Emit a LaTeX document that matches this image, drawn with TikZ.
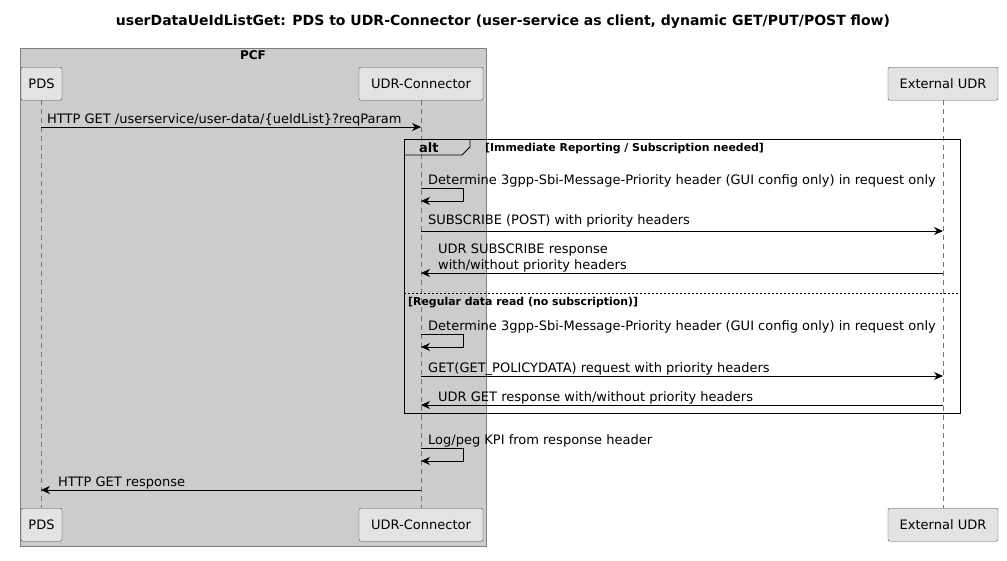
\documentclass[tikz,border=0pt]{standalone}
\usepackage{fontspec}
\setmainfont{DejaVu Sans}
\usetikzlibrary{arrows.meta}
\begin{document}
\begin{tikzpicture}[x=1pt,y=-1pt,
 part/.style={draw=black!70,fill=black!11,rounded corners=2pt,minimum height=33pt,inner xsep=5.5pt,font=\fontsize{13}{15}\selectfont},
 life/.style={draw=black!55,dash pattern=on 5pt off 4pt,line width=0.6pt},
 msg/.style={-{Stealth[length=9pt,width=8pt]},line width=0.7pt},
 lbl/.style={font=\fontsize{13}{15}\selectfont,anchor=base west,inner sep=0pt,align=left},
 guard/.style={font=\bfseries\fontsize{10.9}{12}\selectfont,anchor=base west,inner sep=0pt}]
\useasboundingbox (0,0) rectangle (1007,560);
\node[font=\bfseries\fontsize{14}{16}\selectfont] (title) at (503,22) {userDataUeIdListGet: PDS to UDR-Connector (user-service as client, dynamic GET/PUT/POST flow)};
\draw[fill=black!20,draw=black!50] (20,48) rectangle (486,546);
\node[font=\bfseries\fontsize{12}{14}\selectfont] (pcf) at (253,55) {PCF};
% lifelines
\coordinate (pdsT) at (41,100); \coordinate (pdsB) at (41,508);
\coordinate (udrcT) at (421,100); \coordinate (udrcB) at (421,508);
\coordinate (extT) at (943,100); \coordinate (extB) at (943,508);
\draw[life] (pdsT)--(pdsB); \draw[life] (udrcT)--(udrcB); \draw[life] (extT)--(extB);
\node[part,anchor=north,minimum width=41pt] (pds1) at (41.5,67) {PDS};
\node[part,anchor=north,minimum width=41pt] (pds2) at (41.5,508) {PDS};
\node[part,anchor=north,minimum width=124pt] (uc1) at (421,67) {UDR-Connector};
\node[part,anchor=north,minimum width=124pt] (uc2) at (421,508) {UDR-Connector};
\node[part,anchor=north,minimum width=110pt] (ex1) at (943,67) {External UDR};
\node[part,anchor=north,minimum width=110pt] (ex2) at (943,508) {External UDR};
% alt frame
\draw[line width=0.9pt] (404,139) rectangle (960,413);
\draw[line width=0.9pt] (404,155) -- (462,155) -- (470,147) -- (470,139);
\node[font=\bfseries\fontsize{13}{15}\selectfont,anchor=base west,inner sep=0pt] (alt) at (419,152) {alt};
\node[guard] (g1) at (485,151) {[Immediate Reporting / Subscription needed]};
\draw[dash pattern=on 2pt off 2pt] (404,293) -- (960,293);
\node[guard] (g2) at (408,305) {[Regular data read (no subscription)]};
% messages
\coordinate (m1a) at (41,127); \coordinate (m1b) at (421,127);
\draw[msg] (m1a) -- (m1b);
\node[lbl] (l1) at (47,123) {HTTP GET /userservice/user-data/\{ueIdList\}?reqParam};
\coordinate (s1) at (421,188); \coordinate (s1e) at (421,201);
\draw[msg] (s1) -- (463,188) -- (463,201) -- (s1e);
\node[lbl] (l2) at (428,184) {Determine 3gpp-Sbi-Message-Priority header (GUI config only) in request only};
\coordinate (m3a) at (421,231); \coordinate (m3b) at (943,231);
\draw[msg] (m3a) -- (m3b);
\node[lbl] (l3) at (428,224) {SUBSCRIBE (POST) with priority headers};
\coordinate (m4a) at (943,273); \coordinate (m4b) at (421,273);
\draw[msg] (m4a) -- (m4b);
\node[lbl] (l4) at (438,253) {UDR SUBSCRIBE response};
\node[lbl] (l4b) at (438,269) {with/without priority headers};
\coordinate (s2) at (421,334); \coordinate (s2e) at (421,347);
\draw[msg] (s2) -- (463,334) -- (463,347) -- (s2e);
\node[lbl] (l5) at (428,330) {Determine 3gpp-Sbi-Message-Priority header (GUI config only) in request only};
\coordinate (m6a) at (421,376); \coordinate (m6b) at (943,376);
\draw[msg] (m6a) -- (m6b);
\node[lbl] (l6) at (428,372) {GET(GET\_POLICYDATA) request with priority headers};
\coordinate (m7a) at (943,405); \coordinate (m7b) at (421,405);
\draw[msg] (m7a) -- (m7b);
\node[lbl] (l7) at (438,401) {UDR GET response with/without priority headers};
\coordinate (s3) at (421,448); \coordinate (s3e) at (421,461);
\draw[msg] (s3) -- (463,448) -- (463,461) -- (s3e);
\node[lbl] (l8) at (428,444) {Log/peg KPI from response header};
\coordinate (m9a) at (421,490); \coordinate (m9b) at (41,490);
\draw[msg] (m9a) -- (m9b);
\node[lbl] (l9) at (58,486) {HTTP GET response};
\end{tikzpicture}
\end{document}
